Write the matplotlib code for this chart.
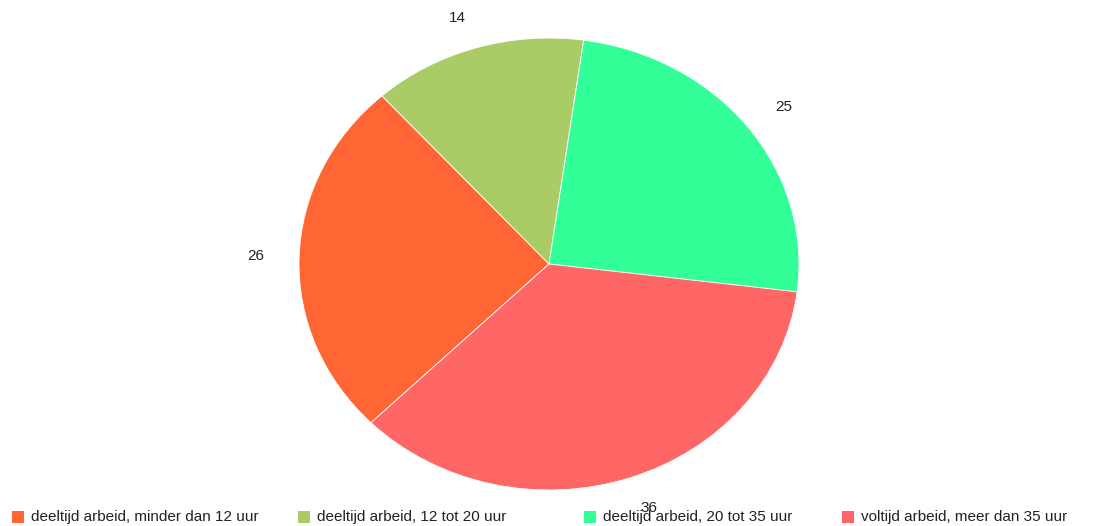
import matplotlib.pyplot as plt
from matplotlib.patches import Rectangle

plt.rcParams['font.family'] = ['Liberation Sans', 'DejaVu Sans']

# data
labels = ["deeltijd arbeid, minder dan 12 uur", "deeltijd arbeid, 12 tot 20 uur",
          "deeltijd arbeid, 20 tot 35 uur", "voltijd arbeid, meer dan 35 uur"]
values = [26, 14, 25, 36]
colors = ["#FF6633", "#AACC66", "#33FF99", "#FF6666"]

W, H = 1097, 526
fig = plt.figure(figsize=(W / 100, H / 100), dpi=100)
ax = fig.add_axes([0, 0, 1, 1])

wedges, texts = ax.pie(values, colors=colors, labels=[str(v) for v in values],
                       startangle=224.6, counterclock=False, labeldistance=1.14,
                       wedgeprops=dict(edgecolor='white', linewidth=0.6),
                       textprops=dict(fontsize=11, color='#222222'))

# ellipse: 250 px wide radius, 226 px tall radius, centre at (549, 264)
ax.set_aspect('auto')
ax.set_xlim(-549 / 250, (W - 549) / 250)
ax.set_ylim(-(H - 264) / 226, 264 / 226)
ax.axis('off')

# legend along the bottom
sq_x = [12, 298, 584, 842]
for i, lab in enumerate(labels):
    x0 = sq_x[i]
    fig.add_artist(Rectangle((x0 / W, 1 - 523 / H), 12 / W, 12 / H,
                             transform=fig.transFigure, facecolor=colors[i], edgecolor='none'))
    fig.text((x0 + 19) / W, 1 - 517 / H, lab, fontsize=11, color='#222222', va='center')

plt.savefig('out.png', dpi=100)
